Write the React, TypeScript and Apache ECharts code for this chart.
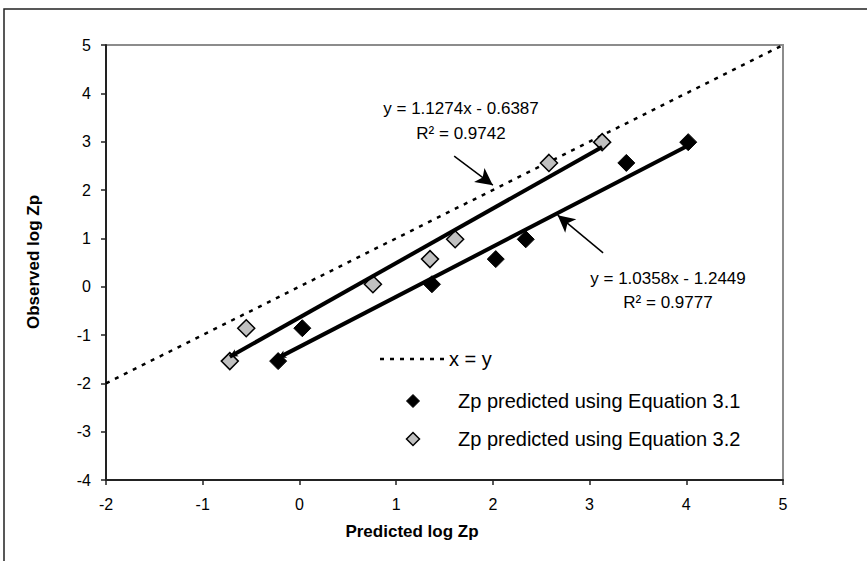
import React, { useEffect, useRef } from "react";
import * as echarts from "echarts";

// ---- Data ----
const observedLogZp = [-1.54, -0.86, 0.05, 0.57, 0.98, 2.56, 2.99];
const predictedEq31 = [-0.22, 0.03, 1.37, 2.03, 2.34, 3.38, 4.02];
const predictedEq32 = [-0.72, -0.55, 0.76, 1.35, 1.61, 2.58, 3.13];
const fitEq31 = { slope: 1.0358, intercept: -1.2449, r2: "0.9777", eq: "y = 1.0358x - 1.2449" };
const fitEq32 = { slope: 1.1274, intercept: -0.6387, r2: "0.9742", eq: "y = 1.1274x - 0.6387" };
const identityLine = [-2, 5];
const xAxisRange = [-2, 5];
const yAxisRange = [-4, 5];
// annotation arrows [from, to] in data coordinates
const arrowEq32 = [[1.6, 2.7], [2.0, 2.1]];
const arrowEq31 = [[3.14, 0.7], [2.67, 1.48]];

const FONT = "Liberation Sans, Arial, sans-serif";

function fitEnds(xs: number[], fit: { slope: number; intercept: number }) {
  const x0 = Math.min(...xs);
  const x1 = Math.max(...xs);
  return [
    [x0, fit.slope * x0 + fit.intercept],
    [x1, fit.slope * x1 + fit.intercept],
  ];
}

function diamond(cx: number, cy: number, r: number) {
  return [
    [cx, cy - r],
    [cx + r, cy],
    [cx, cy + r],
    [cx - r, cy],
  ];
}

export default function App() {
  const ref = useRef<HTMLDivElement>(null);
  useEffect(() => {
    document.body.style.margin = "0";
    const chart = echarts.init(ref.current!, null, { renderer: "svg" });
    const t31 = fitEnds(predictedEq31, fitEq31);
    const t32 = fitEnds(predictedEq32, fitEq32);
    const trendStyle = { color: "#000", width: 4, type: "solid" as const };
    const arrowStyle = { color: "#000", width: 1.5, type: "solid" as const };

    chart.setOption({
      animation: false,
      backgroundColor: "#fff",
      grid: { left: 106, top: 45, right: 84, bottom: 81, show: false },
      xAxis: {
        type: "value",
        min: xAxisRange[0],
        max: xAxisRange[1],
        interval: 1,
        splitLine: { show: false },
        axisLine: { onZero: false, lineStyle: { color: "#222", width: 2 } },
        axisTick: { show: true, inside: false, length: 5, lineStyle: { color: "#222", width: 1.5 } },
        axisLabel: { color: "#000", fontSize: 16, fontFamily: FONT, margin: 16 },
      },
      yAxis: {
        type: "value",
        min: yAxisRange[0],
        max: yAxisRange[1],
        interval: 1,
        splitLine: { show: false },
        axisLine: { onZero: false, lineStyle: { color: "#222", width: 2 } },
        axisTick: { show: true, inside: false, length: 5, lineStyle: { color: "#222", width: 1.5 } },
        axisLabel: { color: "#000", fontSize: 16, fontFamily: FONT, margin: 15 },
      },
      series: [
        {
          name: "x = y",
          type: "line",
          data: identityLine.map((v) => [v, v]),
          showSymbol: false,
          symbol: "none",
          lineStyle: { color: "#000", width: 2.5, type: [4, 6] },
          z: 1,
        },
        {
          name: "Zp predicted using Equation 3.1",
          type: "scatter",
          data: predictedEq31.map((x, i) => [x, observedLogZp[i]]),
          symbol: "diamond",
          symbolSize: 17,
          itemStyle: { color: "#000", borderColor: "#000", borderWidth: 1, opacity: 1 },
          markLine: {
            silent: true,
            label: { show: false },
            data: [
              [
                { coord: t31[0], symbol: "arrow", symbolSize: [6, 8], lineStyle: trendStyle },
                { coord: t31[1], symbol: "none" },
              ],
              [
                { coord: arrowEq31[0], symbol: "none", lineStyle: arrowStyle },
                { coord: arrowEq31[1], symbol: "arrow", symbolSize: [13, 17] },
              ],
            ],
          },
        },
        {
          name: "Zp predicted using Equation 3.2",
          type: "scatter",
          data: predictedEq32.map((x, i) => [x, observedLogZp[i]]),
          symbol: "diamond",
          symbolSize: 17,
          itemStyle: { color: "#c0c0c0", borderColor: "#000", borderWidth: 1.5, opacity: 1 },
          markLine: {
            silent: true,
            label: { show: false },
            data: [
              [
                { coord: t32[0], symbol: "arrow", symbolSize: [6, 8], lineStyle: trendStyle },
                { coord: t32[1], symbol: "none" },
              ],
              [
                { coord: arrowEq32[0], symbol: "none", lineStyle: arrowStyle },
                { coord: arrowEq32[1], symbol: "arrow", symbolSize: [13, 17] },
              ],
            ],
          },
        },
      ],
      graphic: [
        // outer frame
        {
          type: "rect",
          shape: { x: 4, y: 9, width: 1200, height: 1200 },
          style: { fill: "none", stroke: "#222", lineWidth: 1.5 },
          silent: true,
        },
        // plot border top & right (grey)
        {
          type: "polyline",
          shape: { points: [[106, 45], [783, 45], [783, 480]] },
          style: { fill: "none", stroke: "#8c8c8c", lineWidth: 2 },
          silent: true,
        },
        // axis titles
        {
          type: "text",
          x: 412,
          y: 531,
          style: { text: "Predicted log Zp", font: `bold 17px ${FONT}`, fill: "#000", textAlign: "center", textVerticalAlign: "middle" },
        },
        {
          type: "text",
          x: 33,
          y: 262,
          rotation: Math.PI / 2,
          style: { text: "Observed log Zp", font: `bold 17px ${FONT}`, fill: "#000", textAlign: "center", textVerticalAlign: "middle" },
        },
        // trendline equations
        {
          type: "text",
          x: 461,
          y: 108,
          style: { text: fitEq32.eq, font: `17px ${FONT}`, fill: "#000", textAlign: "center", textVerticalAlign: "middle" },
        },
        {
          type: "text",
          x: 461,
          y: 133,
          style: { text: "R² = " + fitEq32.r2, font: `17px ${FONT}`, fill: "#000", textAlign: "center", textVerticalAlign: "middle" },
        },
        {
          type: "text",
          x: 668,
          y: 278,
          style: { text: fitEq31.eq, font: `17px ${FONT}`, fill: "#000", textAlign: "center", textVerticalAlign: "middle" },
        },
        {
          type: "text",
          x: 668,
          y: 302,
          style: { text: "R² = " + fitEq31.r2, font: `17px ${FONT}`, fill: "#000", textAlign: "center", textVerticalAlign: "middle" },
        },
        // legend
        {
          type: "line",
          shape: { x1: 380, y1: 359, x2: 447, y2: 359 },
          style: { stroke: "#000", lineWidth: 2.5, lineDash: [4, 6] },
        },
        {
          type: "text",
          x: 449,
          y: 359,
          style: { text: "x = y", font: `20px ${FONT}`, fill: "#000", textAlign: "left", textVerticalAlign: "middle" },
        },
        {
          type: "polygon",
          shape: { points: diamond(413, 401, 6.5) },
          style: { fill: "#000", stroke: "#000", lineWidth: 1 },
        },
        {
          type: "text",
          x: 458,
          y: 401,
          style: { text: "Zp predicted using Equation 3.1", font: `20px ${FONT}`, fill: "#000", textAlign: "left", textVerticalAlign: "middle" },
        },
        {
          type: "polygon",
          shape: { points: diamond(413, 439, 6.5) },
          style: { fill: "#c0c0c0", stroke: "#000", lineWidth: 1.5 },
        },
        {
          type: "text",
          x: 458,
          y: 439,
          style: { text: "Zp predicted using Equation 3.2", font: `20px ${FONT}`, fill: "#000", textAlign: "left", textVerticalAlign: "middle" },
        },
      ],
    });
    return () => chart.dispose();
  }, []);
  return <div ref={ref} style={{ width: 867, height: 561 }} />;
}
